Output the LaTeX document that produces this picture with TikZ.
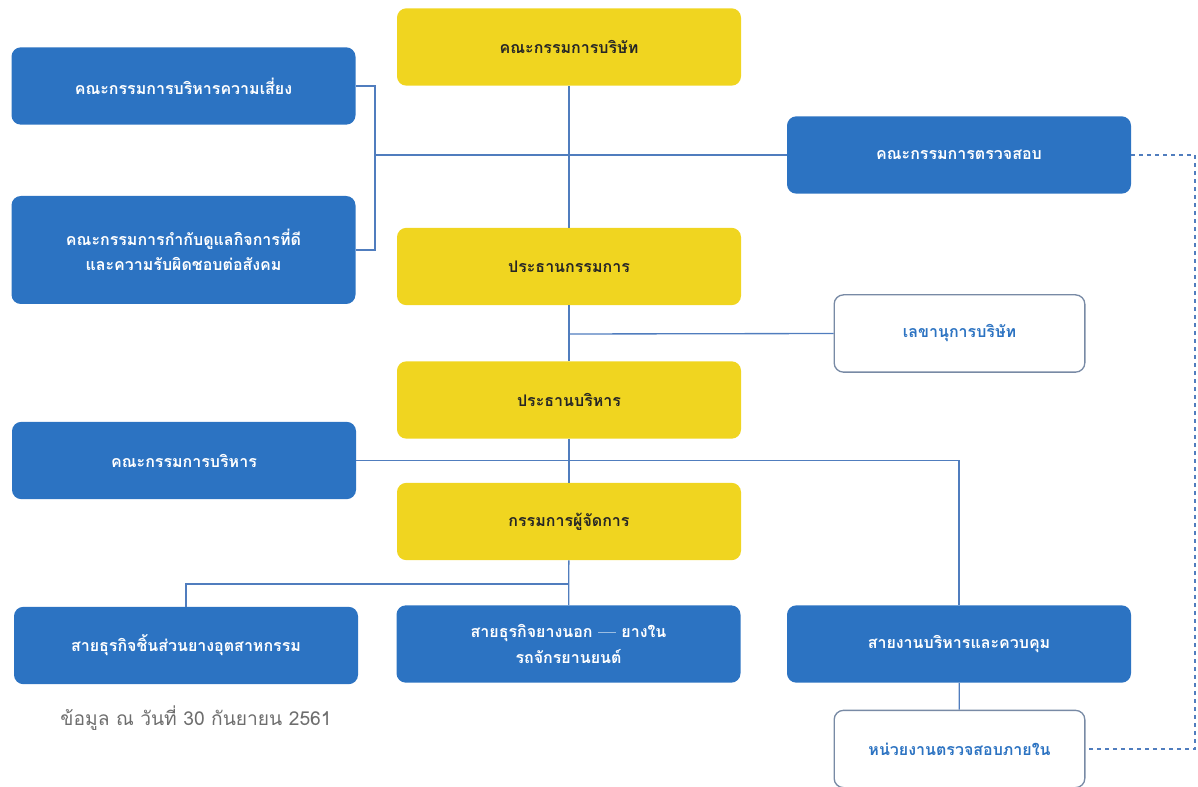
\documentclass[tikz,border=0pt]{standalone}
\usepackage{fontspec}
\usepackage{tikz}
\newfontfamily\thai[Script=Thai]{Loma}
\definecolor{boxblue}{RGB}{44,115,194}
\definecolor{boxyellow}{RGB}{240,213,32}
\definecolor{lineblue}{RGB}{80,125,190}
\definecolor{edgegray}{RGB}{120,138,165}
\definecolor{notegray}{RGB}{110,110,110}
\tikzset{
  box/.style={rounded corners=7pt, minimum width=258pt, minimum height=58pt,
    align=center, inner sep=0pt, font=\thai\bfseries\large},
  bluebox/.style={box, fill=boxblue, text=white},
  yellowbox/.style={box, fill=boxyellow, text=black!85},
  whitebox/.style={box, minimum width=188pt, draw=edgegray, line width=1pt,
    fill=white, text=boxblue},
  link/.style={draw=lineblue, line width=1pt},
  dashlink/.style={link, dashed}
}
\begin{document}
\begin{tikzpicture}[x=0.75pt,y=-0.75pt]
    \useasboundingbox (0,0) rectangle (1198,787);
    % yellow column
    \node[yellowbox] (board) at (569,47) {คณะกรรมการบริษัท};
    \node[yellowbox] (chair) at (569,266.5) {ประธานกรรมการ};
    \node[yellowbox] (exec) at (569,400) {ประธานบริหาร};
    \node[yellowbox] (md) at (569,521.5) {กรรมการผู้จัดการ};
    % committees
    \node[bluebox] (risk) at (183.5,86) {คณะกรรมการบริหารความเสี่ยง};
    \node[bluebox, minimum height=81pt] (gov) at (183.5,250)
        {คณะกรรมการกำกับดูแลกิจการที่ดี\\[5pt]และความรับผิดชอบต่อสังคม};
    \node[bluebox] (audit) at (959,155) {คณะกรรมการตรวจสอบ};
    \node[whitebox] (sec) at (959.5,333.5) {เลขานุการบริษัท};
    \node[bluebox] (execcom) at (184,460.5) {คณะกรรมการบริหาร};
    % business lines
    \node[bluebox] (rubber) at (186,645.5) {สายธุรกิจชิ้นส่วนยางอุตสาหกรรม};
    \node[bluebox] (tire) at (568.5,644) {สายธุรกิจยางนอก {\rmfamily ---} ยางใน\\[5pt]รถจักรยานยนต์};
    \node[bluebox] (ctrl) at (959,644) {สายงานบริหารและควบคุม};
    \node[whitebox] (intaudit) at (959.5,749) {หน่วยงานตรวจสอบภายใน};
    \node[text=notegray, font=\thai\Large] (note) at (196,718) {ข้อมูล ณ วันที่ 30 กันยายน 2561};
    % joints
    \coordinate (jr) at (375,155);
    \coordinate (js) at (569,334);
    \coordinate (jm) at (569,584);
    \coordinate (jd) at (1195,155);
    % connectors
    \draw[link] (board) -- (chair);
    \draw[link] (chair) -- (exec);
    \draw[link] (exec) -- (md);
    \draw[link] (md) -- (tire);
    \draw[link] (risk.east) -| (jr) |- (gov.east);
    \draw[link] (jr) -- (audit.west);
    \draw[link] (js) -- (sec.west);
    \draw[link] (execcom.east) -| (ctrl.north);
    \draw[link] (jm) -| (rubber.north);
    \draw[link] (ctrl) -- (intaudit);
    \draw[dashlink] (audit.east) -- (jd) |- (intaudit.east);
\end{tikzpicture}
\end{document}
